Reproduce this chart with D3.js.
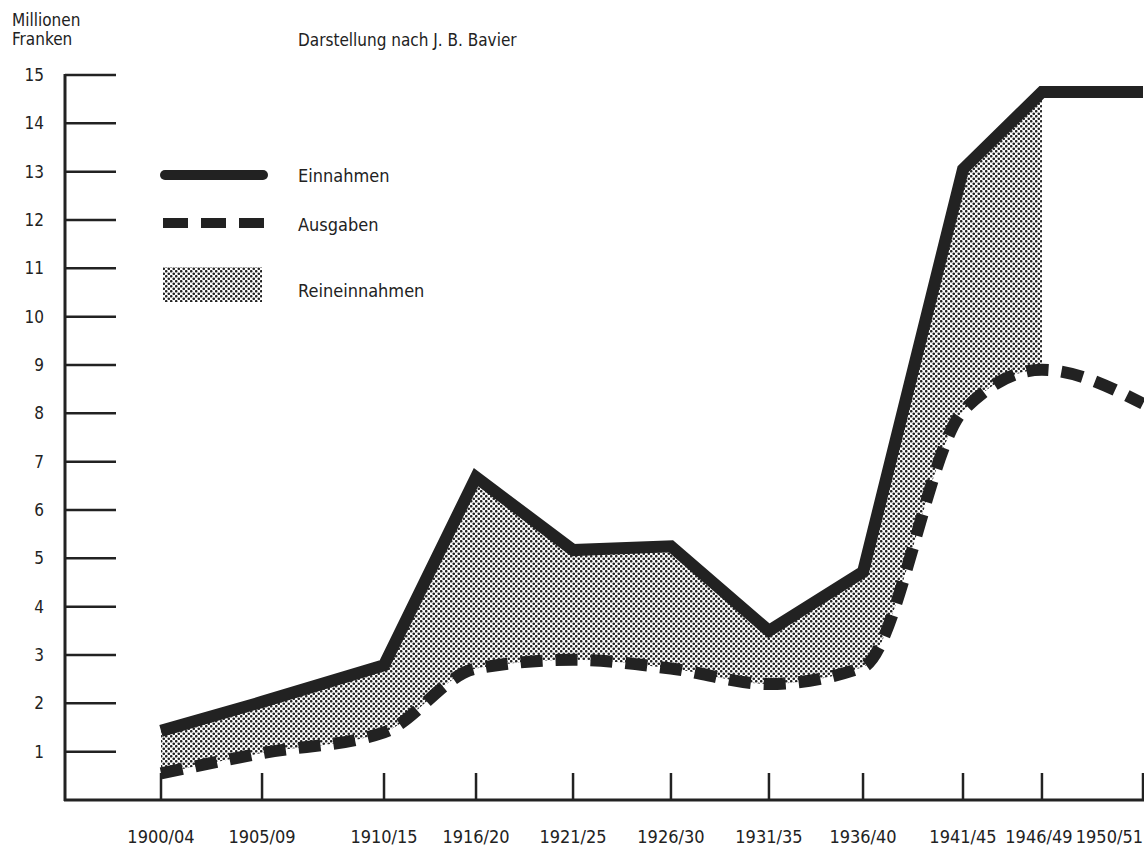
<!DOCTYPE html>
<html>
<head>
<meta charset="utf-8">
<script src="https://cdn.jsdelivr.net/npm/d3@7/dist/d3.min.js"></script>
<style>
  html, body { margin: 0; padding: 0; background: #fff; }
  svg { display: block; }
  text { font-family: "Liberation Sans Narrow", "DejaVu Sans Condensed", "Roboto Condensed", sans-serif; font-stretch: condensed; fill: #222; }
</style>
</head>
<body>
<svg id="chart" width="1144" height="850"></svg>
<script>
// ---- data ----
const periods = ["1900/04","1905/09","1910/15","1916/20","1921/25","1926/30","1931/35","1936/40","1941/45","1946/49","1950/51"];
const einnahmen = [1.43, 2.03, 2.79, 6.68, 5.17, 5.25, 3.50, 4.72, 13.05, 14.65, 14.65];
const ausgaben  = [0.55, 0.97, 1.40, 2.72, 2.90, 2.72, 2.40, 2.75, 8.05, 8.90, 8.20];
const reineinnahmenLastPeriod = "1946/49";
const yTickValues = [1,2,3,4,5,6,7,8,9,10,11,12,13,14,15];
const legendLabels = ["Einnahmen", "Ausgaben", "Reineinnahmen"];
const titleText = "Darstellung nach J. B. Bavier";
const unitLines = ["Millionen", "Franken"];

// ---- layout ----
const ink = "#222";
const svg = d3.select("#chart");
const W = 1144;
const axisX0 = 65, axisX1 = W;
const firstX = 161, lastX = 1143;
// relative placement of the period ticks along the drawn axis (as in original)
const tickFrac = [0, 0.1029, 0.2271, 0.3208, 0.4196, 0.5193, 0.6191, 0.7149, 0.8167, 0.8971, 1.0];

const x = d3.scaleLinear()
  .domain(d3.range(periods.length))
  .range(tickFrac.map(f => firstX + f * (lastX - firstX)));
const y = d3.scaleLinear().domain([0, 15]).range([800, 75]);

const idx = d3.range(periods.length);
const fillEnd = periods.indexOf(reineinnahmenLastPeriod);

// pattern
const defs = svg.append("defs");
const pat = defs.append("pattern").attr("id", "dots")
  .attr("patternUnits", "userSpaceOnUse").attr("width", 5).attr("height", 5);
pat.append("circle").attr("cx", 1.25).attr("cy", 1.25).attr("r", 1.3).attr("fill", ink);
pat.append("circle").attr("cx", 3.75).attr("cy", 3.75).attr("r", 1.3).attr("fill", ink);

// clip: below Einnahmen, up to the last Reineinnahmen period
const clipArea = d3.area()
  .x(i => x(i)).y0(y(0)).y1(i => y(einnahmen[i]))
  .curve(d3.curveLinear);
defs.append("clipPath").attr("id", "underEin")
  .append("path").attr("d", clipArea(idx.slice(0, fillEnd + 1)));

const ausCurve = d3.curveMonotoneX;
const fillArea = d3.area()
  .x(i => x(i)).y0(i => y(ausgaben[i])).y1(y(15.5))
  .curve(ausCurve);

svg.append("path")
  .attr("d", fillArea(idx))
  .attr("fill", "url(#dots)")
  .attr("clip-path", "url(#underEin)");

// Ausgaben dashed
const ausLine = d3.line().x(i => x(i)).y(i => y(ausgaben[i])).curve(ausCurve);
svg.append("path")
  .attr("d", ausLine(idx))
  .attr("fill", "none").attr("stroke", ink)
  .attr("stroke-width", 12).attr("stroke-dasharray", "22,13");

// Einnahmen solid
const einLine = d3.line().x(i => x(i)).y(i => y(einnahmen[i])).curve(d3.curveLinear);
svg.append("path")
  .attr("d", einLine(idx))
  .attr("fill", "none").attr("stroke", ink)
  .attr("stroke-width", 12).attr("stroke-linejoin", "miter").attr("stroke-miterlimit", 10);

// Y axis
svg.append("line").attr("x1", axisX0).attr("x2", axisX0)
  .attr("y1", y(15) - 1).attr("y2", y(0) + 1)
  .attr("stroke", ink).attr("stroke-width", 3);
const yt = svg.append("g");
yt.selectAll("line").data(yTickValues).join("line")
  .attr("x1", axisX0).attr("x2", axisX0 + 51)
  .attr("y1", d => y(d)).attr("y2", d => y(d))
  .attr("stroke", ink).attr("stroke-width", 2.5);
yt.selectAll("text").data(yTickValues).join("text")
  .attr("x", 44).attr("y", d => y(d) + 6)
  .attr("text-anchor", "end").attr("font-size", 17)
  .text(d => d);

// X axis
svg.append("line").attr("x1", axisX0 - 1).attr("x2", axisX1)
  .attr("y1", y(0)).attr("y2", y(0))
  .attr("stroke", ink).attr("stroke-width", 3);
const xt = svg.append("g");
xt.selectAll("line").data(idx).join("line")
  .attr("x1", i => x(i)).attr("x2", i => x(i))
  .attr("y1", y(0)).attr("y2", y(0) - 27)
  .attr("stroke", ink).attr("stroke-width", 2.5);
const last = periods.length - 1;
xt.selectAll("text").data(idx).join("text")
  .attr("x", i => i === last ? W - 1 : (i === last - 1 ? x(i) - 3 : x(i))).attr("y", 843)
  .attr("text-anchor", i => i === last ? "end" : "middle").attr("font-size", 18)
  .text(i => periods[i]);

// Unit label + title
svg.append("g").selectAll("text").data(unitLines).join("text")
  .attr("x", 12).attr("y", (d, i) => 26 + i * 19)
  .attr("font-size", 17).text(d => d);
svg.append("text").attr("x", 298).attr("y", 46)
  .attr("font-size", 17).text(titleText);

// Legend
const lg = svg.append("g");
lg.append("line").attr("x1", 165).attr("x2", 263).attr("y1", 175).attr("y2", 175)
  .attr("stroke", ink).attr("stroke-width", 10).attr("stroke-linecap", "round");
lg.append("line").attr("x1", 163).attr("x2", 265).attr("y1", 223).attr("y2", 223)
  .attr("stroke", ink).attr("stroke-width", 10).attr("stroke-dasharray", "25,13");
lg.append("rect").attr("x", 163).attr("y", 267).attr("width", 99).attr("height", 35)
  .attr("fill", "url(#dots)");
lg.selectAll("text").data(legendLabels).join("text")
  .attr("x", 298).attr("y", (d, i) => [182, 231, 297][i])
  .attr("font-size", 18).text(d => d);
</script>
</body>
</html>
